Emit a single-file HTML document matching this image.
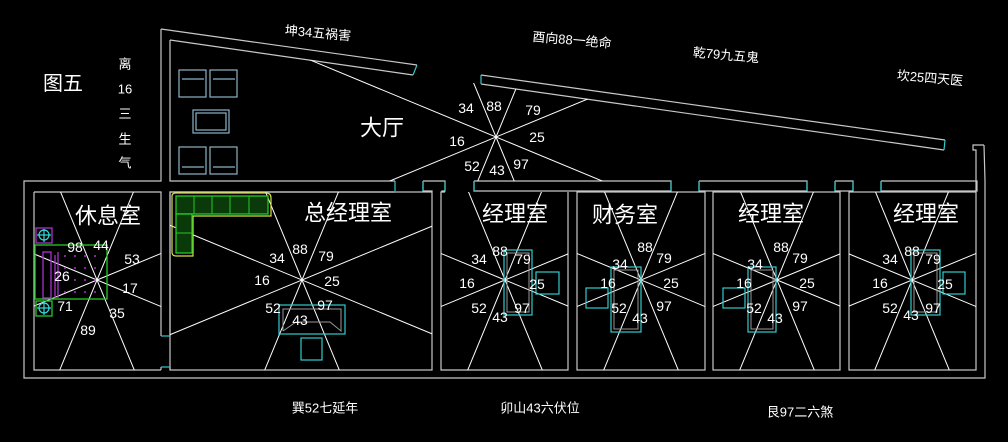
<!DOCTYPE html>
<html><head><meta charset="utf-8"><style>
html,body{margin:0;padding:0;background:#000;width:1008px;height:442px;overflow:hidden;}
svg{display:block;}
text{font-family:"Liberation Sans","Noto Sans CJK SC",sans-serif;fill:#fff;}
.n{font-size:14px;text-anchor:middle;dominant-baseline:central;}
.t{font-size:22px;text-anchor:middle;dominant-baseline:central;}
.s{font-size:13px;text-anchor:middle;dominant-baseline:central;}
</style></head><body>
<svg width="1008" height="442" viewBox="0 0 1008 442" xmlns="http://www.w3.org/2000/svg" style="overflow:hidden">
<defs>
<clipPath id="cHall"><polygon points="170,40 413,75 481,84 945,150 975,150 975,181 170,181"/></clipPath>
<clipPath id="cR0"><rect x="34" y="192" width="127" height="178"/></clipPath>
<clipPath id="cR1"><rect x="170" y="192" width="262" height="178"/></clipPath>
<clipPath id="cR2"><rect x="441" y="192" width="127" height="178"/></clipPath>
<clipPath id="cR3"><rect x="577" y="192" width="128" height="178"/></clipPath>
<clipPath id="cR4"><rect x="713" y="192" width="127" height="178"/></clipPath>
<clipPath id="cR5"><rect x="849" y="192" width="127" height="178"/></clipPath>
<g id="star" stroke="#fff" stroke-width="1">
<line x1="-155" y1="0" x2="155" y2="0" transform="rotate(22.5)"/>
<line x1="-155" y1="0" x2="155" y2="0" transform="rotate(-22.5)"/>
<line x1="-155" y1="0" x2="155" y2="0" transform="rotate(67.5)"/>
<line x1="-155" y1="0" x2="155" y2="0" transform="rotate(-67.5)"/>
</g>
<g id="starH" stroke="#fff" stroke-width="1">
<line x1="-215" y1="0" x2="215" y2="0" transform="rotate(22.5)"/>
<line x1="-215" y1="0" x2="215" y2="0" transform="rotate(-22.5)"/>
<line x1="-215" y1="0" x2="215" y2="0" transform="rotate(67.5)"/>
<line x1="-215" y1="0" x2="215" y2="0" transform="rotate(-67.5)"/>
</g>
</defs>
<rect width="1008" height="442" fill="#000"/>

<g fill="none" stroke="#c8c8c8" stroke-width="1.2">
<polyline points="161,29 161,181 24,181 24,378 985,378 985,181 984,145"/>
<polyline points="34,192 34,370 161,370"/>
<polyline points="170,40 170,181 395,181"/>
<polyline points="161,29 417,65"/>
<polyline points="170,40 413,75"/>
<polyline points="481,75 945,140"/>
<polyline points="481,84 944,150"/>
<polyline points="34,192 161,192 161,336"/>
<polyline points="170,336 170,192 395,192"/>
<rect x="170" y="192" width="262" height="178"/>
<polyline points="445,192 441,192 441,370 568,370 568,192"/>
<rect x="577" y="192" width="128" height="178"/>
<rect x="713" y="192" width="127" height="178"/>
<rect x="849" y="192" width="127" height="178"/>
<line x1="161" y1="367" x2="161" y2="370"/>
<line x1="170" y1="367" x2="170" y2="370"/>
<polyline points="423,181 445,181 445,191 442,191 442,192"/>
<polyline points="423,181 423,191 432,191 432,192"/>
<polyline points="474,181 671,181 671,191 474,191 474,181"/>
<polyline points="699,181 807,181 807,191 699,191 699,181"/>
<polyline points="835,181 853,181 853,191 835,191 835,181"/>
<polyline points="881,181 977,181 977,191 881,191 881,181"/>
<polyline points="976,191 976,150 973,150 973,145 984,145"/>
</g>
<g stroke="#3cc" stroke-width="1.2" fill="none">
<line x1="395" y1="181" x2="395" y2="191"/>
<line x1="423" y1="181" x2="423" y2="191"/><line x1="445" y1="181" x2="445" y2="191"/>
<line x1="474" y1="181" x2="474" y2="191"/><line x1="671" y1="181" x2="671" y2="191"/>
<line x1="699" y1="181" x2="699" y2="191"/><line x1="807" y1="181" x2="807" y2="191"/>
<line x1="835" y1="181" x2="835" y2="191"/><line x1="853" y1="181" x2="853" y2="191"/>
<line x1="881" y1="181" x2="881" y2="191"/>
<line x1="417" y1="65" x2="413" y2="75"/><line x1="481" y1="75" x2="481" y2="84"/>
<line x1="945" y1="140" x2="944" y2="150"/>
<line x1="161" y1="336" x2="170" y2="336"/><line x1="161" y1="367" x2="170" y2="367"/>
</g>

<g clip-path="url(#cHall)"><use href="#starH" transform="translate(496,137)"/></g>
<g clip-path="url(#cR0)"><use href="#star" transform="translate(97,280)"/></g>
<g clip-path="url(#cR1)"><use href="#star" transform="translate(302,280)"/></g>
<g clip-path="url(#cR2)"><use href="#star" transform="translate(505,280)"/></g>
<g clip-path="url(#cR3)"><use href="#star" transform="translate(641,280)"/></g>
<g clip-path="url(#cR4)"><use href="#star" transform="translate(777,280)"/></g>
<g clip-path="url(#cR5)"><use href="#star" transform="translate(912,280)"/></g>

<g fill="none" stroke="#8ab4c8" stroke-width="1.2">
<rect x="179" y="70" width="27" height="27"/><rect x="210" y="70" width="27" height="27"/>
<line x1="182" y1="79" x2="204" y2="79"/><line x1="213" y1="79" x2="235" y2="79"/>
<rect x="193" y="110" width="36" height="23"/><rect x="196" y="113" width="30" height="17"/>
<rect x="179" y="147" width="27" height="27"/><rect x="210" y="147" width="27" height="27"/>
<line x1="182" y1="167" x2="204" y2="167"/><line x1="213" y1="167" x2="235" y2="167"/>
</g>
<path d="M172,196 Q172,193 176,193 L266,193 Q271,193 271,198 L271,216 L193,216 L193,256 L176,256 Q172,256 172,252 Z" fill="none" stroke="#dd4" stroke-width="1.2"/>
<g fill="#0a3a0a" stroke="#2c2" stroke-width="1.3">
<rect x="176" y="196" width="92" height="18"/>
<rect x="176" y="214" width="16" height="39"/>
</g>
<g stroke="#2c2" stroke-width="1">
<line x1="194" y1="196" x2="194" y2="214"/><line x1="212" y1="196" x2="212" y2="214"/>
<line x1="230" y1="196" x2="230" y2="214"/><line x1="249" y1="196" x2="249" y2="214"/>
<line x1="176" y1="233" x2="192" y2="233"/>
</g>
<rect x="35" y="245" width="72" height="54" fill="none" stroke="#2c2" stroke-width="1.3"/>
<g fill="none" stroke="#a3c" stroke-width="1.3">
<rect x="43" y="252" width="8" height="46"/>
<line x1="55" y1="255" x2="55" y2="298"/><line x1="58" y1="252" x2="58" y2="298"/>
<rect x="36" y="228" width="16" height="15"/>
</g>
<g fill="#a3c">
<circle cx="65" cy="256" r="1"/><circle cx="75" cy="256" r="1"/><circle cx="85" cy="256" r="1"/><circle cx="95" cy="256" r="1"/>
<circle cx="65" cy="268" r="1"/><circle cx="75" cy="268" r="1"/><circle cx="85" cy="268" r="1"/><circle cx="95" cy="268" r="1"/>
<circle cx="65" cy="280" r="1"/><circle cx="75" cy="280" r="1"/><circle cx="85" cy="280" r="1"/><circle cx="95" cy="280" r="1"/>
<circle cx="65" cy="292" r="1"/><circle cx="75" cy="292" r="1"/><circle cx="85" cy="292" r="1"/><circle cx="95" cy="292" r="1"/>
</g>
<rect x="36" y="301" width="16" height="15" fill="none" stroke="#2c2" stroke-width="1.3"/>
<g fill="none" stroke="#3dd" stroke-width="1.2">
<circle cx="44" cy="235" r="5"/><line x1="37" y1="235" x2="51" y2="235"/><line x1="44" y1="229" x2="44" y2="242"/>
<circle cx="44" cy="308" r="5"/><line x1="37" y1="308" x2="51" y2="308"/><line x1="44" y1="302" x2="44" y2="315"/>
</g>
<g fill="none" stroke="#3cc" stroke-width="1.2">
<rect x="279" y="305" width="66" height="29"/>
<rect x="301" y="338" width="21" height="22"/>
<rect x="504" y="250" width="28" height="65"/><rect x="536" y="272" width="23" height="22"/>
<rect x="611" y="267" width="30" height="65"/><rect x="586" y="288" width="22" height="20"/>
<rect x="748" y="267" width="28" height="65"/><rect x="723" y="288" width="22" height="20"/>
<rect x="911" y="250" width="29" height="65"/><rect x="943" y="272" width="22" height="22"/>
</g>
<g fill="none" stroke="#999" stroke-width="1">
<polyline points="283,331 283,309 341,309 341,331 330,322 296,322 283,331"/>
<rect x="507" y="253" width="22" height="59"/>
<rect x="614" y="270" width="24" height="59"/>
<rect x="751" y="270" width="22" height="59"/>
<rect x="914" y="253" width="23" height="59"/>
</g>

<text x="466" y="108" class="n">34</text><text x="494" y="106" class="n">88</text>
<text x="533" y="110" class="n">79</text><text x="537" y="137" class="n">25</text>
<text x="521" y="164" class="n">97</text><text x="497" y="170" class="n">43</text>
<text x="472" y="166" class="n">52</text><text x="457" y="141" class="n">16</text>

<text x="75" y="247" class="n">98</text><text x="101" y="245" class="n">44</text>
<text x="132" y="259" class="n">53</text><text x="130" y="288" class="n">17</text>
<text x="117" y="313" class="n">35</text><text x="88" y="330" class="n">89</text>
<text x="65" y="306" class="n">71</text><text x="62" y="276" class="n">26</text>

<text x="300" y="249" class="n">88</text><text x="277" y="258" class="n">34</text>
<text x="326" y="256" class="n">79</text><text x="262" y="280" class="n">16</text>
<text x="332" y="281" class="n">25</text><text x="273" y="308" class="n">52</text>
<text x="300" y="320" class="n">43</text><text x="325" y="305" class="n">97</text>

<text x="500" y="251" class="n">88</text><text x="479" y="259" class="n">34</text>
<text x="523" y="259" class="n">79</text><text x="467" y="283" class="n">16</text>
<text x="537" y="284" class="n">25</text><text x="479" y="308" class="n">52</text>
<text x="500" y="317" class="n">43</text><text x="522" y="308" class="n">97</text>

<text x="645" y="247" class="n">88</text><text x="620" y="264" class="n">34</text>
<text x="664" y="258" class="n">79</text><text x="608" y="283" class="n">16</text>
<text x="671" y="283" class="n">25</text><text x="619" y="308" class="n">52</text>
<text x="640" y="318" class="n">43</text><text x="664" y="306" class="n">97</text>

<text x="781" y="247" class="n">88</text><text x="755" y="264" class="n">34</text>
<text x="800" y="258" class="n">79</text><text x="744" y="283" class="n">16</text>
<text x="807" y="283" class="n">25</text><text x="754" y="308" class="n">52</text>
<text x="775" y="318" class="n">43</text><text x="800" y="306" class="n">97</text>

<text x="912" y="251" class="n">88</text><text x="890" y="259" class="n">34</text>
<text x="933" y="259" class="n">79</text><text x="880" y="283" class="n">16</text>
<text x="945" y="284" class="n">25</text><text x="890" y="308" class="n">52</text>
<text x="911" y="315" class="n">43</text><text x="933" y="308" class="n">97</text>

<text x="108" y="216" class="t">休息室</text>
<text x="348" y="213" class="t">总经理室</text>
<text x="515" y="214" class="t">经理室</text>
<text x="625" y="215" class="t">财务室</text>
<text x="771" y="214" class="t">经理室</text>
<text x="926" y="214" class="t">经理室</text>
<text x="382" y="128" class="t">大厅</text>
<text x="63" y="84" style="font-size:20px;text-anchor:middle;dominant-baseline:central;">图五</text>
<text x="125" y="64" class="s">离</text><text x="125" y="89" class="s">16</text>
<text x="125" y="114" class="s">三</text><text x="125" y="139" class="s">生</text>
<text x="125" y="163" class="s">气</text>
<text x="318" y="33" class="s" transform="rotate(5 318 33)">坤34五祸害</text>
<text x="572" y="40" class="s" transform="rotate(5 572 40)">酉向88一绝命</text>
<text x="726" y="55" class="s" transform="rotate(5 726 55)">乾79九五鬼</text>
<text x="930" y="78" class="s" transform="rotate(5 930 78)">坎25四天医</text>
<text x="325" y="408" class="s">巽52七延年</text>
<text x="540" y="408" class="s">卯山43六伏位</text>
<text x="800" y="412" class="s">艮97二六煞</text>
</svg>
</body></html>
